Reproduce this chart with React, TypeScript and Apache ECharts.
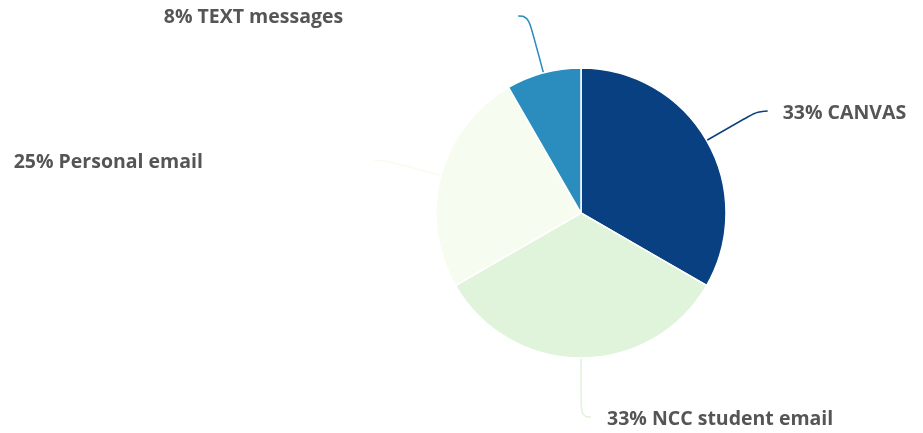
import React, { useEffect, useRef } from "react";
import * as echarts from "echarts";

const categories = ["CANVAS", "NCC student email", "Personal email", "TEXT messages"];
const values = [4, 4, 3, 1];
const colors = ["#084081", "#e0f3db", "#f7fcf0", "#2b8cbe"];
const labelGaps = [15, 16, 171, 175];

export default function App() {
  const ref = useRef<HTMLDivElement>(null);
  useEffect(() => {
    const chart = echarts.init(ref.current!, undefined, { renderer: "svg" });
    chart.setOption({
      animation: false,
      series: [
        {
          type: "pie",
          center: [581, 213],
          radius: 145,
          startAngle: 90,
          clockwise: true,
          avoidLabelOverlap: false,
          itemStyle: { borderColor: "#ffffff", borderWidth: 1.5 },
          label: {
            show: true,
            position: "outer",
            overflow: "none",
            color: "#555555",
            fontFamily: "Open Sans",
            fontWeight: "bold",
            fontSize: 19.5,
            padding: [5, 0, 0, 0],
            formatter: (p: any) => `${Math.round(p.percent)}% ${p.name}`,
          },
          labelLine: { show: true, length: 59, length2: 10, smooth: 0.5, lineStyle: { width: 1.5 } },
          emphasis: { disabled: true },
          data: categories.map((c, i) => ({
            name: c,
            value: values[i],
            itemStyle: { color: colors[i] },
            label: { distanceToLabelLine: labelGaps[i] },
            labelLine: { lineStyle: { color: colors[i] } },
          })),
        },
      ],
    });
    return () => chart.dispose();
  }, []);
  return <div ref={ref} style={{ position: "fixed", left: 0, top: 0, width: 923, height: 433 }} />;
}
